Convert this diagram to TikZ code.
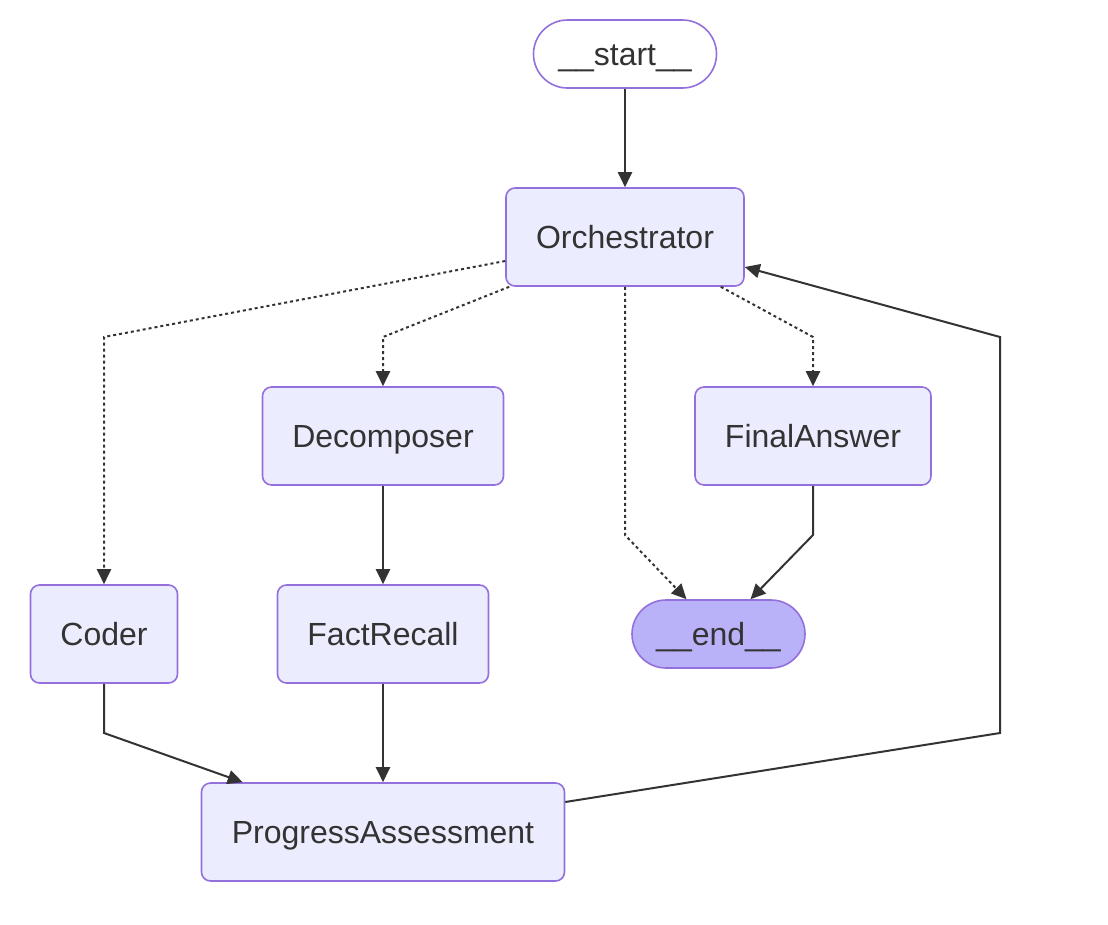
\documentclass[tikz,border=0pt]{standalone}
\usepackage{fontspec}
\setmainfont{Liberation Sans}
\usetikzlibrary{arrows.meta}
\definecolor{nodefill}{HTML}{ECECFF}
\definecolor{nodeline}{HTML}{9370DB}
\definecolor{endfill}{HTML}{B9B2F8}
\definecolor{ink}{HTML}{333333}
\tikzset{
  txt/.style={text=ink, font=\fontsize{32}{38}\selectfont, text height=23.4pt, text depth=0pt},
  box/.style={txt, draw=nodeline, fill=nodefill, line width=1.6pt, rounded corners=9pt,
    minimum height=98pt, inner sep=0pt},
  pill/.style={txt, draw=nodeline, line width=1.6pt, rounded corners=34pt,
    minimum height=68pt, inner sep=0pt},
  flow/.style={draw=ink, line width=2pt, -{Triangle[length=15pt,width=14pt]}},
  dots/.style={flow, dash pattern=on 3pt off 3pt},
}
\begin{document}
\begin{tikzpicture}[x=1pt,y=-1pt]
\useasboundingbox (0,0) rectangle (1108,924);
\node[pill, fill=white, minimum width=183pt] (start) at (625,54) {\_\_start\_\_};
\node[box, minimum width=238pt] (orch) at (625,237) {Orchestrator};
\node[box, minimum width=241pt] (dec) at (383,436) {Decomposer};
\node[box, minimum width=236pt] (fa) at (813,436) {FinalAnswer};
\node[box, minimum width=147pt] (coder) at (104,634) {Coder};
\node[box, minimum width=211pt] (fr) at (383,634) {FactRecall};
\node[pill, fill=endfill, minimum width=173pt] (endn) at (718.5,634) {\_\_end\_\_};
\node[box, minimum width=363pt] (pa) at (383,832) {ProgressAssessment};

\draw[flow] (start.south) -- (orch.north);
\draw[dots] ([yshift=-24pt]orch.west) -- (104,337) -- (coder.north);
\draw[dots] ([xshift=4pt]orch.south west) -- (383,337) -- (dec.north);
\draw[dots] (orch.south) -- (625,535) -- ([xshift=-32pt]endn.north);
\draw[dots] ([xshift=-24pt]orch.south east) -- (813,337) -- (fa.north);
\draw[flow] (dec.south) -- (fr.north);
\draw[flow] (fa.south) -- (813,535) -- ([xshift=32pt]endn.north);
\draw[flow] (coder.south) -- (104,733) -- ([xshift=42pt]pa.north west);
\draw[flow] (fr.south) -- (pa.north);
\draw[flow] ([yshift=30pt]pa.east) -- (1000,733) -- (1000,337) -- ([yshift=-30pt]orch.east);
\end{tikzpicture}
\end{document}
